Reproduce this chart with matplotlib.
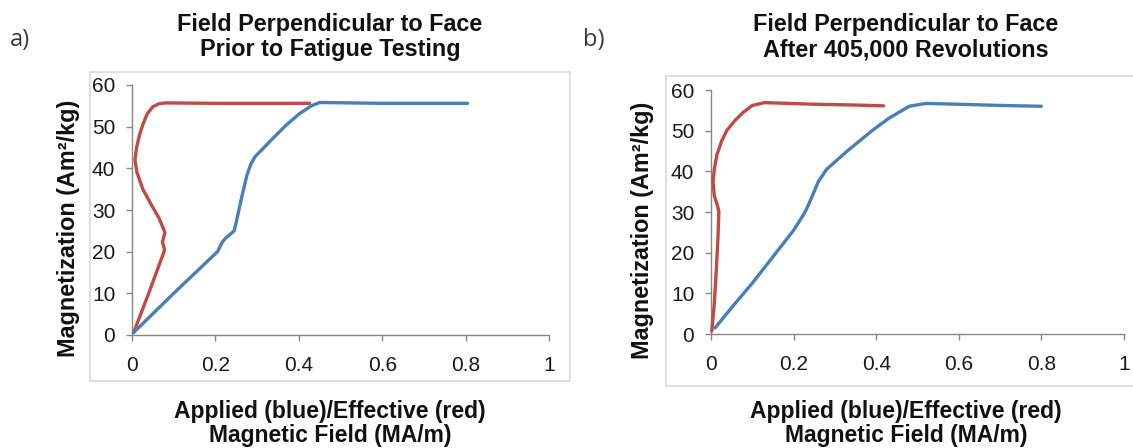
import matplotlib
matplotlib.use("Agg")
import matplotlib.pyplot as plt
from matplotlib.patches import Rectangle

plt.rcParams['font.family'] = ['Liberation Sans', 'DejaVu Sans']

# Panel a: prior to fatigue testing
applied_a_field = [0.004, 0.10, 0.205, 0.216, 0.224, 0.245, 0.252, 0.264, 0.276, 0.285,
                   0.295, 0.31, 0.336, 0.368, 0.40, 0.43, 0.45, 0.60, 0.805]
applied_a_mag = [0.6, 10, 20, 22.2, 23.2, 25, 28, 33.5, 38.5, 41,
                 42.8, 44.3, 47, 50.2, 53, 55, 55.8, 55.6, 55.6]
effective_a_field = [0.004, 0.04, 0.075, 0.078, 0.073, 0.079, 0.065, 0.045, 0.026, 0.012,
                     0.007, 0.011, 0.018, 0.026, 0.036, 0.05, 0.065, 0.08, 0.20, 0.30, 0.426]
effective_a_mag = [0.6, 10, 19.5, 20.5, 22.3, 24.6, 28, 31.5, 35, 39,
                   42, 45, 48, 50.5, 53, 54.8, 55.5, 55.7, 55.6, 55.6, 55.6]

# Panel b: after 405,000 revolutions
applied_b_field = [0.01, 0.05, 0.10, 0.15, 0.20, 0.225, 0.235, 0.26, 0.28, 0.33,
                   0.39, 0.43, 0.48, 0.52, 0.60, 0.70, 0.80]
applied_b_mag = [1.5, 6.5, 12.5, 19, 25.5, 29.5, 31.5, 37.5, 40.5, 45,
                 50, 53, 56, 56.7, 56.5, 56.2, 56.0]
effective_b_field = [0.002, 0.008, 0.013, 0.017, 0.019, 0.016, 0.008, 0.005, 0.008, 0.014,
                     0.026, 0.038, 0.058, 0.078, 0.10, 0.13, 0.16, 0.25, 0.35, 0.418]
effective_b_mag = [0.7, 7.5, 16, 24, 30, 31.5, 34, 37.5, 40.5, 44,
                   47.5, 50, 52.5, 54.5, 56.2, 56.9, 56.8, 56.5, 56.3, 56.1]

x_ticks = [0, 0.2, 0.4, 0.6, 0.8, 1]
x_tick_labels = ['0', '0.2', '0.4', '0.6', '0.8', '1']
y_ticks = [0, 10, 20, 30, 40, 50, 60]

titles = ["Field Perpendicular to Face\nPrior to Fatigue Testing",
          "Field Perpendicular to Face\nAfter 405,000 Revolutions"]
panel_tags = ["a)", "b)"]
xlabel = "Applied (blue)/Effective (red)\nMagnetic Field (MA/m)"
ylabel = "Magnetization (Am\u00b2/kg)"

BLUE = '#4A7EBB'
RED = '#BE4B48'
AXIS = '#868686'
FRAME = '#D9D9D9'

W, H = 1133, 448
fig = plt.figure(figsize=(W / 100, H / 100), dpi=100)


def fx(px):
    return px / W


def fy(py):
    return 1 - py / H


panels = [
    dict(ax=(132, 549, 85, 335), frame=(90, 570, 72, 381), tag=(10, 40),
         ylab=(68, 228), data=(applied_a_field, applied_a_mag, effective_a_field, effective_a_mag)),
    dict(ax=(711, 1124, 90, 334), frame=(666, 1146, 76, 386), tag=(583, 40),
         ylab=(643, 230), data=(applied_b_field, applied_b_mag, effective_b_field, effective_b_mag)),
]

for i, p in enumerate(panels):
    l, r, t, b = p['ax']
    fl, fr, ft, fb = p['frame']
    fig.patches.append(Rectangle((fx(fl), fy(fb)), fx(fr) - fx(fl), fy(ft) - fy(fb),
                                 transform=fig.transFigure, fill=False,
                                 edgecolor=FRAME, linewidth=1.2, zorder=0))
    ax = fig.add_axes([fx(l), fy(b), fx(r) - fx(l), fy(t) - fy(b)])
    ax.patch.set_alpha(0)
    bx, by, rx, ry = p['data']
    ax.plot(rx, ry, color=RED, lw=2.4, solid_capstyle='round', clip_on=False, zorder=3)
    ax.plot(bx, by, color=BLUE, lw=2.4, solid_capstyle='round', clip_on=False, zorder=3)
    ax.set_xlim(0, 1)
    ax.set_ylim(0, 60)
    ax.set_xticks(x_ticks)
    ax.set_xticklabels(x_tick_labels)
    ax.set_yticks(y_ticks)
    for s in ('top', 'right'):
        ax.spines[s].set_visible(False)
    for s in ('left', 'bottom'):
        ax.spines[s].set_color(AXIS)
        ax.spines[s].set_linewidth(1.0)
    ax.tick_params(axis='both', direction='out', length=4, width=1.0, color=AXIS,
                   labelsize=15, labelcolor='#1a1a1a')
    ax.tick_params(axis='x', pad=11)
    ax.tick_params(axis='y', pad=8)

    cx = (fl + fr) / 2
    fig.text(fx(cx), fy(37), titles[i], ha='center', va='center', fontsize=16.8,
             fontweight='bold', color='#111111', linespacing=1.12)
    fig.text(fx(cx), fy(423.5), xlabel, ha='center', va='center', fontsize=16.5,
             fontweight='bold', color='#111111', linespacing=1.07)
    yx, yy = p['ylab']
    fig.text(fx(yx), fy(yy), ylabel, ha='center', va='center',
             rotation=90, fontsize=16.8, fontweight='bold', color='#111111')
    tx, ty = p['tag']
    fig.text(fx(tx), fy(ty), panel_tags[i], ha='left', va='center', fontsize=17,
             family=['Open Sans', 'DejaVu Sans'], color='#3a3a3a')

fig.savefig('out.png', dpi=100)
